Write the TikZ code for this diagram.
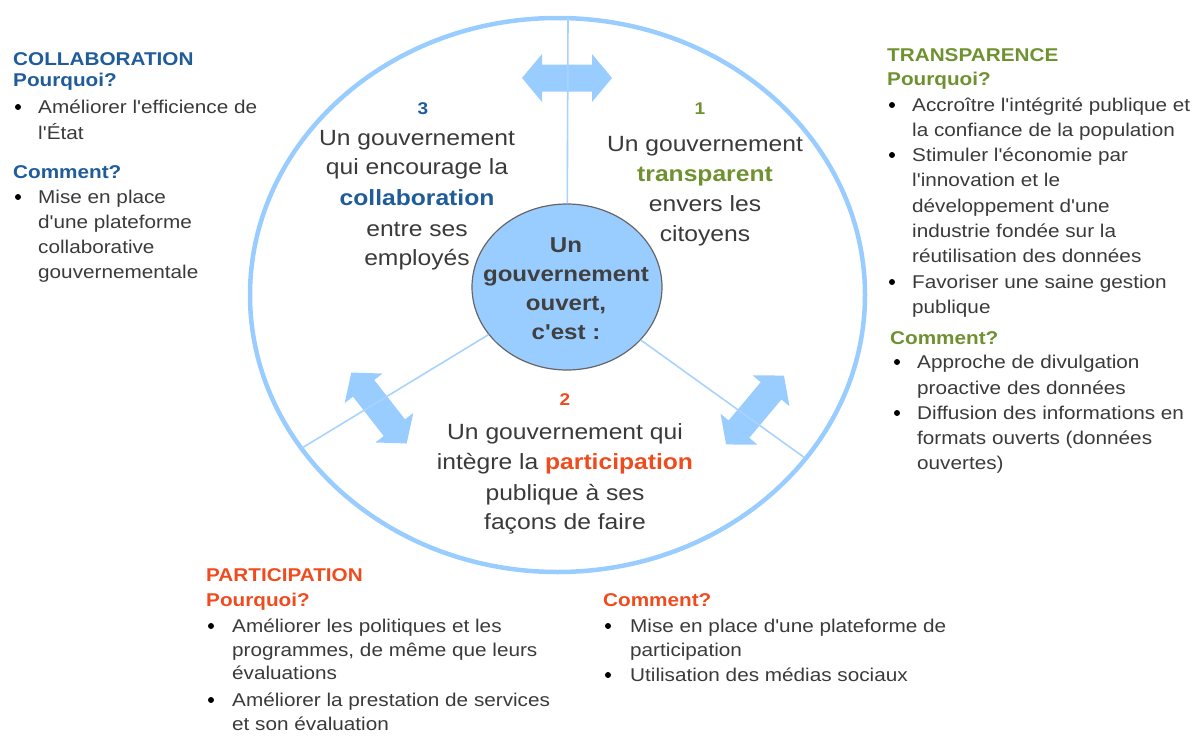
\documentclass[tikz,border=0pt]{standalone}
\usepackage{fontspec}
\newfontfamily\lib{Liberation Sans}[FakeStretch=1.12]
\usetikzlibrary{shapes.geometric}
\definecolor{lblue}{HTML}{99CCFF}
\definecolor{lline}{HTML}{A8D3FF}
\definecolor{dblue}{HTML}{1F5C99}
\definecolor{dgreen}{HTML}{6F9130}
\definecolor{dred}{HTML}{F04B1E}
\definecolor{txt}{HTML}{3A3A3A}
\definecolor{ctr}{HTML}{404040}
\begin{document}
\begin{tikzpicture}[x=1pt,y=-1pt,
  body/.style={font=\lib\fontsize{18.5}{22}\selectfont, text=txt, anchor=mid west, inner sep=0pt, yshift=-4.5pt},
  head/.style={body, font=\lib\bfseries\fontsize{18.5}{22}\selectfont},
  bul/.style={circle, fill=black, inner sep=0pt, minimum size=6pt},
  ctext/.style={font=\lib\fontsize{22}{30}\selectfont, text=txt, anchor=mid, inner sep=0pt, yshift=-4.5pt},
  cbold/.style={ctext, font=\lib\bfseries\fontsize{22}{30}\selectfont},
  num/.style={font=\lib\bfseries\fontsize{17}{20}\selectfont, anchor=mid, inner sep=0pt, yshift=-4pt},
  divline/.style={draw=lline, line width=1.6pt},
  dblarrow/.pic={\fill[lblue] (-45,0) -- (-25,24) -- (-25,13.5) -- (25,13.5) -- (25,24) -- (45,0) -- (25,-24) -- (25,-13.5) -- (-25,-13.5) -- (-25,-24) -- cycle;}
]
\useasboundingbox (0,0) rectangle (1203,736);

% outer ring
\node[ellipse, draw=lblue, line width=4.5pt, minimum width=615pt, minimum height=554pt, inner sep=0pt] (outer) at (557.5,295) {};

% arrows
\pic at (567,78) {dblarrow};
\pic[rotate=-52] at (379,408) {dblarrow};
\pic[rotate=50] at (755,410) {dblarrow};

% inner circle
\node[ellipse, draw=ctr!80, line width=1.2pt, fill=lblue, minimum width=190pt, minimum height=166pt, inner sep=0pt] (inner) at (567,287) {};
\node[align=center, text=ctr, inner sep=0pt, font=\lib\bfseries\fontsize{21.5}{29}\selectfont] (innerlbl) at (566,289)
      {Un\\gouvernement\\ouvert,\\c'est :};

% dividers
\coordinate (topend) at (568,18);
\coordinate (llend) at (302,448);
\coordinate (lrend) at (805,458);
\draw[divline] (topend) -- (inner);
\draw[divline] (llend) -- (inner);
\draw[divline] (lrend) -- (inner);

% section 3
\node[num, text=dblue] (n3) at (423,108) {3};
\node[ctext] (s3a) at (417,139) {Un gouvernement};
\node[ctext] (s3b) at (417,168) {qui encourage la};
\node[cbold, text=dblue] (s3c) at (417,199) {collaboration};
\node[ctext] (s3d) at (417,230) {entre ses};
\node[ctext] (s3e) at (417,259) {employés};

% section 1
\node[num, text=dgreen] (n1) at (700,108) {1};
\node[ctext] (s1a) at (705,145) {Un gouvernement};
\node[cbold, text=dgreen] (s1b) at (705,175) {transparent};
\node[ctext] (s1c) at (705,205) {envers les};
\node[ctext] (s1d) at (705,235) {citoyens};

% section 2
\node[num, text=dred] (n2) at (565,399) {2};
\node[ctext] (s2a) at (565,433) {Un gouvernement qui};
\node[ctext] (s2b) at (565,463) {intègre la {\bfseries\color{dred}participation}};
\node[ctext] (s2c) at (565,494) {publique à ses};
\node[ctext] (s2d) at (565,523) {façons de faire};

% COLLABORATION block
\node[head, text=dblue] (ch) at (13,59) {COLLABORATION};
\node[head, text=dblue] (cp) at (13,80) {Pourquoi?};
\node[bul] (cb1) at (18,107) {};
\node[body] (c1a) at (38,107) {Améliorer l'efficience de};
\node[body] (c1b) at (38,133) {l'État};
\node[head, text=dblue] (cc) at (13,172) {Comment?};
\node[bul] (cb2) at (18,197) {};
\node[body] (c2a) at (38,197) {Mise en place};
\node[body] (c2b) at (38,222) {d'une plateforme};
\node[body] (c2c) at (38,247) {collaborative};
\node[body] (c2d) at (38,272) {gouvernementale};

% TRANSPARENCE block
\node[head, text=dgreen] (th) at (887,55) {TRANSPARENCE};
\node[head, text=dgreen] (tp) at (887,79) {Pourquoi?};
\node[bul] (tb1) at (892,105) {};
\node[body] (t1a) at (912,105) {Accroître l'intégrité publique et};
\node[body] (t1b) at (912,130) {la confiance de la population};
\node[bul] (tb2) at (892,155) {};
\node[body] (t2a) at (912,155) {Stimuler l'économie par};
\node[body] (t2b) at (912,180) {l'innovation et le};
\node[body] (t2c) at (912,206) {développement d'une};
\node[body] (t2d) at (912,231) {industrie fondée sur la};
\node[body] (t2e) at (912,256) {réutilisation des données};
\node[bul] (tb3) at (892,282) {};
\node[body] (t3a) at (912,282) {Favoriser une saine gestion};
\node[body] (t3b) at (912,307) {publique};
\node[head, text=dgreen] (tc) at (890,338) {Comment?};
\node[bul] (tb4) at (897,362) {};
\node[body] (t4a) at (917,362) {Approche de divulgation};
\node[body] (t4b) at (917,388) {proactive des données};
\node[bul] (tb5) at (897,413) {};
\node[body] (t5a) at (917,413) {Diffusion des informations en};
\node[body] (t5b) at (917,438) {formats ouverts (données};
\node[body] (t5c) at (917,463) {ouvertes)};

% PARTICIPATION block
\node[head, text=dred] (ph) at (206,575) {PARTICIPATION};
\node[head, text=dred] (pp) at (206,600) {Pourquoi?};
\node[bul] (pb1) at (211,626) {};
\node[body] (p1a) at (232,626) {Améliorer les politiques et les};
\node[body] (p1b) at (232,650) {programmes, de même que leurs};
\node[body] (p1c) at (232,673) {évaluations};
\node[bul] (pb2) at (211,700) {};
\node[body] (p2a) at (232,700) {Améliorer la prestation de services};
\node[body] (p2b) at (232,724) {et son évaluation};

\node[head, text=dred] (pc) at (603,600) {Comment?};
\node[bul] (pb3) at (608,626) {};
\node[body] (p3a) at (630,626) {Mise en place d'une plateforme de};
\node[body] (p3b) at (630,650) {participation};
\node[bul] (pb4) at (608,675) {};
\node[body] (p4a) at (630,675) {Utilisation des médias sociaux};
\end{tikzpicture}
\end{document}
